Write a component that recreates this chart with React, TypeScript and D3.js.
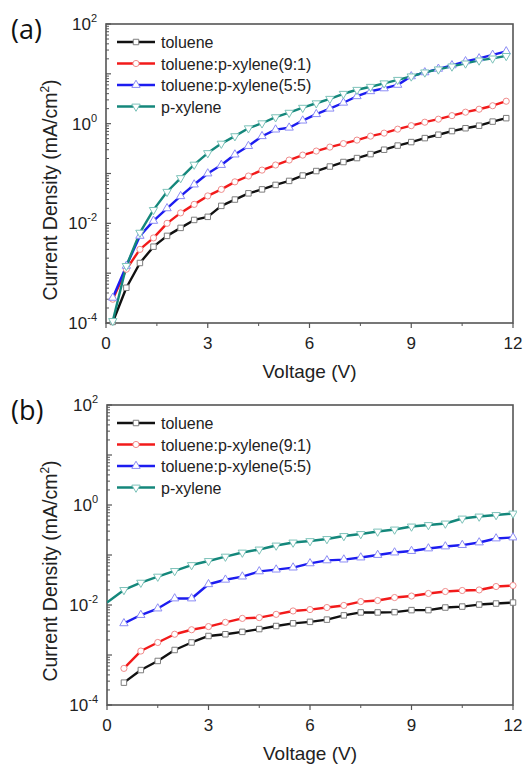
import React from 'react';
import * as d3 from 'd3';

// ---------- data ----------
const seriesNames = ['toluene', 'toluene:p-xylene(9:1)', 'toluene:p-xylene(5:5)', 'p-xylene'];
const lineColors = ['#111111', '#f21a1a', '#1c1cf0', '#14877b'];
const markerStrokes = ['#7d7d7d', '#f08c8c', '#8c8cf5', '#7cc2b9'];
const markerShapes = ['square', 'circle', 'triangleUp', 'triangleDown'];

const xTicksMajor = [0, 3, 6, 9, 12];
const xTicksMinor = [1.5, 4.5, 7.5, 10.5];
const yTickLabelExps = [2, 0, -2, -4];

// Panel (a)
const voltageA = [0.2, 0.6, 1.0, 1.4, 1.8, 2.2, 2.6, 3.0, 3.4, 3.8, 4.2, 4.6, 5.0, 5.4, 5.8, 6.2, 6.6, 7.0, 7.4, 7.8, 8.2, 8.6, 9.0, 9.4, 9.8, 10.2, 10.6, 11.0, 11.4, 11.8];
const tolueneA = [1.05e-4, 5.1e-4, 1.6e-3, 3.4e-3, 5.6e-3, 8.1e-3, 1.17e-2, 1.35e-2, 2.24e-2, 3.0e-2, 4.0e-2, 4.8e-2, 5.9e-2, 7.1e-2, 9.1e-2, 0.112, 0.138, 0.17, 0.204, 0.245, 0.30, 0.363, 0.427, 0.513, 0.60, 0.71, 0.81, 0.91, 1.1, 1.29];
const mix91A = [3.0e-4, 1.2e-3, 3.0e-3, 5.1e-3, 1.0e-2, 1.62e-2, 2.4e-2, 3.55e-2, 4.8e-2, 6.8e-2, 8.9e-2, 0.117, 0.148, 0.186, 0.234, 0.282, 0.339, 0.398, 0.468, 0.562, 0.646, 0.776, 0.912, 1.07, 1.23, 1.45, 1.70, 1.95, 2.29, 2.82];
const mix55A = [3.2e-4, 1.4e-3, 5.6e-3, 1.12e-2, 2.0e-2, 3.5e-2, 6.0e-2, 0.1, 0.148, 0.24, 0.355, 0.56, 0.76, 0.83, 1.15, 1.55, 2.0, 2.63, 3.55, 4.47, 5.1, 6.0, 8.9, 10.7, 12.6, 14.8, 17.8, 20.4, 24, 28.2];
const xyleneA = [1.1e-4, 1.4e-3, 6.5e-3, 1.86e-2, 4.3e-2, 8.1e-2, 0.151, 0.257, 0.398, 0.562, 0.81, 1.02, 1.35, 1.66, 2.09, 2.57, 3.16, 3.98, 4.79, 5.5, 6.46, 7.59, 8.9, 10.7, 12.3, 14.1, 16.2, 18.6, 20.4, 22.9];

// Panel (b)
const voltageB = [0.5, 1.0, 1.5, 2.0, 2.5, 3.0, 3.5, 4.0, 4.5, 5.0, 5.5, 6.0, 6.5, 7.0, 7.5, 8.0, 8.5, 9.0, 9.5, 10.0, 10.5, 11.0, 11.5, 12.0];
const voltageBXylene = [0.0, 0.5, 1.0, 1.5, 2.0, 2.5, 3.0, 3.5, 4.0, 4.5, 5.0, 5.5, 6.0, 6.5, 7.0, 7.5, 8.0, 8.5, 9.0, 9.5, 10.0, 10.5, 11.0, 11.5, 12.0];
const tolueneB = [2.8e-4, 5.0e-4, 7.6e-4, 1.26e-3, 1.78e-3, 2.4e-3, 2.6e-3, 2.9e-3, 3.3e-3, 3.8e-3, 4.3e-3, 4.6e-3, 5.1e-3, 6.2e-3, 7.1e-3, 7.1e-3, 7.2e-3, 7.9e-3, 7.9e-3, 8.9e-3, 9.3e-3, 1.02e-2, 1.07e-2, 1.12e-2];
const mix91B = [5.4e-4, 1.2e-3, 1.78e-3, 2.6e-3, 3.2e-3, 3.7e-3, 4.5e-3, 5.4e-3, 5.6e-3, 6.5e-3, 7.6e-3, 8.1e-3, 8.9e-3, 9.8e-3, 1.17e-2, 1.23e-2, 1.41e-2, 1.51e-2, 1.7e-2, 1.86e-2, 1.95e-2, 2.0e-2, 2.34e-2, 2.45e-2];
const mix55B = [4.3e-3, 6.3e-3, 8.5e-3, 1.35e-2, 1.35e-2, 2.6e-2, 3.2e-2, 3.7e-2, 4.7e-2, 5.1e-2, 5.6e-2, 6.8e-2, 7.8e-2, 8.1e-2, 8.9e-2, 0.1, 0.112, 0.12, 0.135, 0.148, 0.158, 0.178, 0.214, 0.224];
const xyleneB = [1.12e-2, 2.0e-2, 2.8e-2, 3.7e-2, 4.8e-2, 6.3e-2, 7.6e-2, 9.3e-2, 0.112, 0.129, 0.155, 0.178, 0.19, 0.209, 0.24, 0.263, 0.295, 0.324, 0.372, 0.398, 0.427, 0.537, 0.589, 0.631, 0.676];

const FONT = '"Liberation Sans", Arial, sans-serif';

type Series = { x: number[]; y: number[] };

function symbolPath(shape: string): string {
  const gen = d3.symbol();
  if (shape === 'square') return gen.type(d3.symbolSquare).size(30)() as string;
  if (shape === 'circle') return gen.type(d3.symbolCircle).size(30)() as string;
  return gen.type(d3.symbolTriangle).size(30)() as string;
}

function Panel({ label, left, right, top, bottom, series, clipId }: {
  label: string; left: number; right: number; top: number; bottom: number; series: Series[]; clipId: string;
}) {
  const x = d3.scaleLinear().domain([0, 12]).range([left, right]);
  const y = d3.scaleLog().domain([1e-4, 1e2]).range([bottom, top]);
  const line = d3.line<[number, number]>().x(d => x(d[0])).y(d => y(d[1]));
  const axisColor = '#555';

  const minorY: number[] = [];
  for (let e = -4; e < 2; e++) {
    for (let m = 2; m <= 9; m++) minorY.push(m * Math.pow(10, e));
  }
  const majorY: number[] = [];
  for (let e = -4; e <= 2; e++) majorY.push(Math.pow(10, e));

  const legendY0 = top + 18;
  const legendDy = 21.5;

  return (
    <g>
      <defs>
        <clipPath id={clipId}>
          <rect x={left} y={top - 4} width={right - left + 4} height={bottom - top + 8} />
        </clipPath>
      </defs>
      <text x={11} y={top + 15} fontFamily='"Open Sans", "Liberation Sans", sans-serif' fontSize={27} fill="#111">{label}</text>
      {/* frame */}
      <rect x={left} y={top} width={right - left} height={bottom - top} fill="none" stroke={axisColor} strokeWidth={1.6} />
      {/* y ticks */}
      {majorY.map((v, i) => (
        <line key={'my' + i} x1={left} x2={left + 5} y1={y(v)} y2={y(v)} stroke={axisColor} strokeWidth={1.2} />
      ))}
      {minorY.map((v, i) => (
        <line key={'ny' + i} x1={left} x2={left + 3} y1={y(v)} y2={y(v)} stroke={axisColor} strokeWidth={1} />
      ))}
      {yTickLabelExps.map(e => (
        <text key={'yl' + e} x={left - 9} y={y(Math.pow(10, e)) + 6} textAnchor="end" fontFamily={FONT} fontSize={17} fill="#222">
          10<tspan dy={-8} fontSize={11}>{e}</tspan>
        </text>
      ))}
      {/* x ticks */}
      {xTicksMajor.map(v => (
        <line key={'mx' + v} x1={x(v)} x2={x(v)} y1={bottom} y2={bottom + 5} stroke={axisColor} strokeWidth={1.2} />
      ))}
      {xTicksMinor.map(v => (
        <line key={'nx' + v} x1={x(v)} x2={x(v)} y1={bottom} y2={bottom + 3} stroke={axisColor} strokeWidth={1} />
      ))}
      {xTicksMajor.map(v => (
        <text key={'xl' + v} x={x(v)} y={bottom + 26} textAnchor="middle" fontFamily={FONT} fontSize={17} fill="#222">{v}</text>
      ))}
      {/* axis titles */}
      <text x={(left + right) / 2} y={bottom + 55} textAnchor="middle" fontFamily={FONT} fontSize={19} fill="#222">Voltage (V)</text>
      <text transform={`translate(57, ${top + 166}) rotate(-90)`} textAnchor="middle" fontFamily={FONT} fontSize={19.5} fill="#222">
        Current Density (mA/cm<tspan dy={-8} fontSize={12}>2</tspan><tspan dy={8}>)</tspan>
      </text>
      {/* series */}
      <g clipPath={`url(#${clipId})`}>
        {series.map((s, i) => {
          const pts: [number, number][] = s.x.map((v, j) => [v, s.y[j]]);
          return (
            <path key={'l' + i} d={line(pts) as string} fill="none" stroke={lineColors[i]} strokeWidth={2.4} strokeLinejoin="round" />
          );
        })}
        {series.map((s, i) => (
          <g key={'m' + i}>
            {s.x.map((v, j) => v === 0 ? null : (
              <path key={j} d={symbolPath(markerShapes[i])}
                transform={`translate(${x(v)},${y(s.y[j])})${markerShapes[i] === 'triangleDown' ? ' rotate(180)' : ''}`}
                fill="#fff" stroke={markerStrokes[i]} strokeWidth={1} />
            ))}
          </g>
        ))}
      </g>
      {/* legend */}
      {seriesNames.map((n, i) => {
        const ly = legendY0 + i * legendDy;
        return (
          <g key={'lg' + i}>
            <line x1={117} x2={155} y1={ly} y2={ly} stroke={lineColors[i]} strokeWidth={2.4} />
            <path d={symbolPath(markerShapes[i])}
              transform={`translate(136,${ly})${markerShapes[i] === 'triangleDown' ? ' rotate(180)' : ''}`}
              fill="#fff" stroke={markerStrokes[i]} strokeWidth={1} />
            <text x={161} y={ly + 6} fontFamily={FONT} fontSize={16} fill="#222">{n}</text>
          </g>
        );
      })}
    </g>
  );
}

export default function App() {
  const seriesA: Series[] = [
    { x: voltageA, y: tolueneA },
    { x: voltageA, y: mix91A },
    { x: voltageA, y: mix55A },
    { x: voltageA, y: xyleneA },
  ];
  const seriesB: Series[] = [
    { x: voltageB, y: tolueneB },
    { x: voltageB, y: mix91B },
    { x: voltageB, y: mix55B },
    { x: voltageBXylene, y: xyleneB },
  ];
  return (
    <svg width={525} height={766} style={{ position: 'absolute', left: 0, top: 0, background: '#fff' }}>
      <rect x={0} y={0} width={525} height={766} fill="#fff" />
      <Panel label="(a)" left={106} right={513} top={24} bottom={323} series={seriesA} clipId="clipA" />
      <Panel label="(b)" left={107} right={513} top={405} bottom={705} series={seriesB} clipId="clipB" />
    </svg>
  );
}
